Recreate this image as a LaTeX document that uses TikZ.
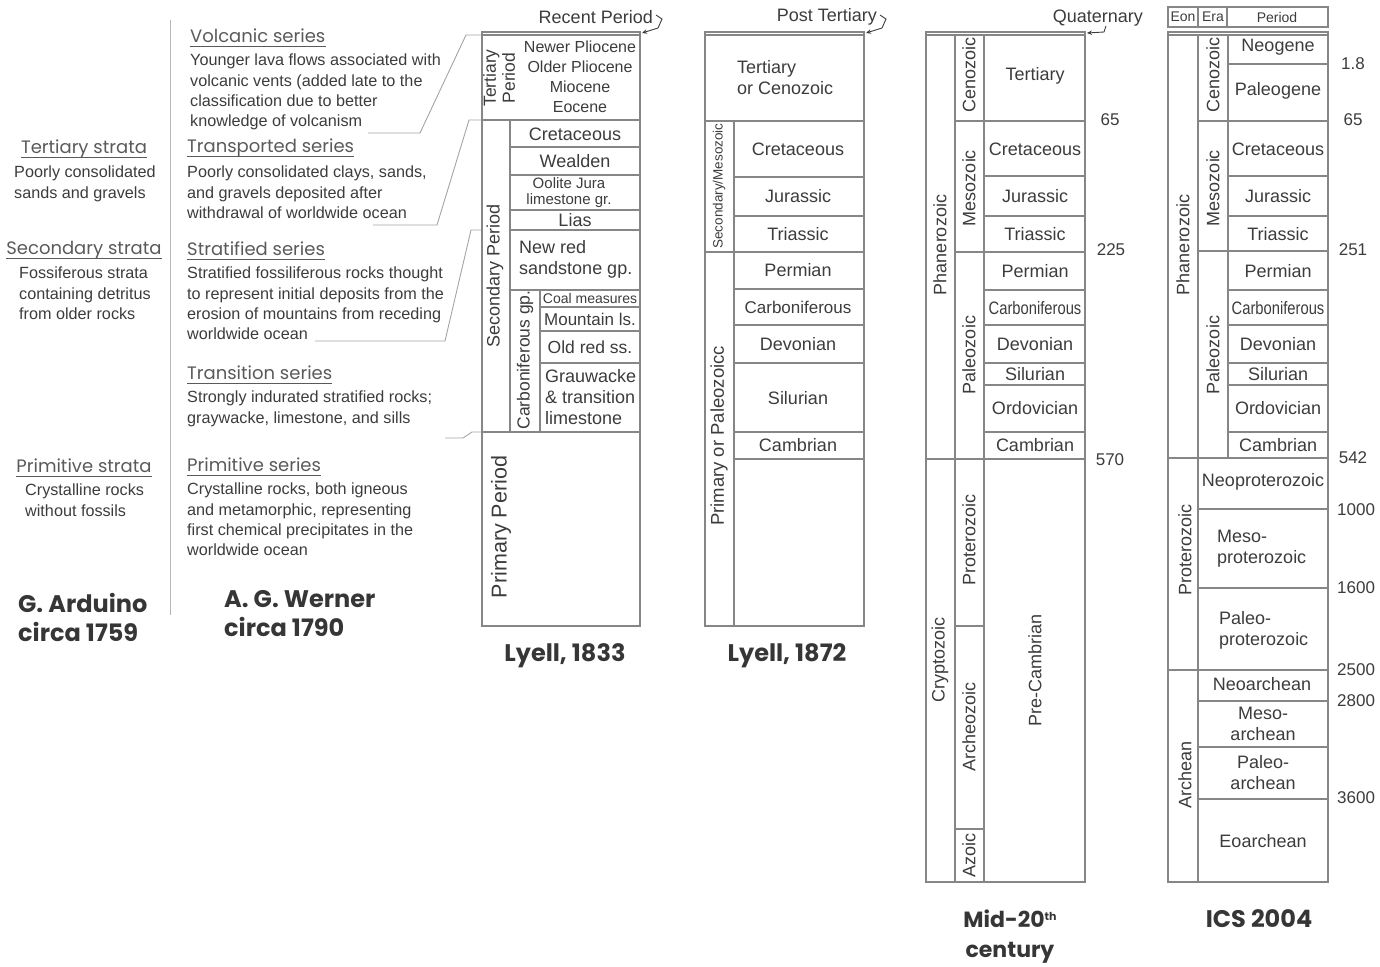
\documentclass[tikz,border=0pt]{standalone}
\usepackage{fontspec}
\setmainfont{Liberation Sans}
\newfontfamily\hdf{Poppins}
\usetikzlibrary{arrows.meta}
\definecolor{tc}{HTML}{3C3C3C}
\definecolor{lc}{HTML}{868686}
\definecolor{hc}{HTML}{5A5A5A}
\newcommand{\ulhead}[1]{\draw[draw=hc,line width=0.8pt] ([yshift=-4pt]#1.base west) -- ([yshift=-4pt]#1.base east);}
\begin{document}
\begin{tikzpicture}[x=1pt,y=-1pt,
 ln/.style={draw=lc,line width=1.3pt},
 cn/.style={draw=lc!75,line width=0.9pt},
 cell/.style={text=tc,inner sep=0pt,align=center,font=\fontsize{18}{21}\selectfont},
 rot/.style={cell,rotate=90},
 num/.style={text=tc,inner sep=0pt,font=\fontsize{17}{20}\selectfont},
 body/.style={text=tc,inner sep=0pt,align=left,anchor=north west,font=\fontsize{16.2}{20.3}\selectfont},
 hdr/.style={text=hc,inner sep=0pt,anchor=west,font=\hdf\fontsize{18}{20}\selectfont},
 captxt/.style={text=tc!90!black,inner sep=0pt,font=\hdf\bfseries\fontsize{24}{29}\selectfont},
 arr/.style={draw=tc,line width=0.9pt,-{Stealth[length=5pt,width=4.5pt]}}]
\useasboundingbox (0,0) rectangle (1380,966);

% ---------------- Arduino ----------------
\draw[draw=lc!60,line width=0.9pt] (170,20) -- (170,615);
\node[hdr,anchor=center] (at) at (84,149) {Tertiary strata}; \ulhead{at}
\node[body] (ab1) at (14,166) {Poorly consolidated\\sands and gravels};
\node[hdr,anchor=center] (as) at (84,250) {Secondary strata}; \ulhead{as}
\node[body] (ab2) at (19,267) {Fossiferous strata\\containing detritus\\from older rocks};
\node[hdr,anchor=center] (ap) at (84,466) {Primitive strata}; \ulhead{ap}
\node[body] (ab3) at (25,484) {Crystalline rocks\\without fossils};
\node[captxt,align=left,anchor=north west] (acap) at (18,593) {G. Arduino\\circa 1759};

% ---------------- Werner ----------------
\node[hdr] (wv) at (190,36) {Volcanic series}; \ulhead{wv}
\node[body] (wvb) at (190,54) {Younger lava flows associated with\\volcanic vents (added late to the\\classification due to better\\knowledge of volcanism};
\node[hdr] (wt) at (187,148) {Transported series}; \ulhead{wt}
\node[body] (wtb) at (187,166) {Poorly consolidated clays, sands,\\and gravels deposited after\\withdrawal of worldwide ocean};
\node[hdr] (ws) at (187,249) {Stratified series}; \ulhead{ws}
\node[body] (wsb) at (187,267) {Stratified fossiliferous rocks thought\\to represent initial deposits from the\\erosion of mountains from receding\\worldwide ocean};
\node[hdr] (wr) at (187,373) {Transition series}; \ulhead{wr}
\node[body] (wrb) at (187,391) {Strongly indurated stratified rocks;\\graywacke, limestone, and sills};
\node[hdr] (wp) at (187,465) {Primitive series}; \ulhead{wp}
\node[body] (wpb) at (187,483) {Crystalline rocks, both igneous\\and metamorphic, representing\\first chemical precipitates in the\\worldwide ocean};
\node[captxt,align=left,anchor=north west] (wcap) at (224,590) {A. G. Werner\\circa 1790};

% connectors Werner -> Lyell 1833
\coordinate (c1a) at (368,133); \coordinate (c1b) at (420,133); \coordinate (c1c) at (466,35); \coordinate (c1d) at (482,35);
\draw[cn] (c1a) -- (c1b) -- (c1c) -- (c1d);
\coordinate (c2a) at (373,225); \coordinate (c2b) at (437,225); \coordinate (c2c) at (469,120); \coordinate (c2d) at (482,120);
\draw[cn] (c2a) -- (c2b) -- (c2c) -- (c2d);
\coordinate (c3a) at (315,341); \coordinate (c3b) at (445,341); \coordinate (c3c) at (471,230); \coordinate (c3d) at (482,230);
\draw[cn] (c3a) -- (c3b) -- (c3c) -- (c3d);
\coordinate (c4a) at (445,438); \coordinate (c4b) at (463,438); \coordinate (c4c) at (472,432); \coordinate (c4d) at (482,432);
\draw[cn] (c4a) -- (c4b) -- (c4c) -- (c4d);

% ---------------- Lyell 1833 ----------------
\draw[ln] (482,32) rectangle (640,626);
\draw[ln] (482,35) -- (640,35);
\draw[ln] (482,120) -- (640,120);
\draw[ln] (510,147) -- (640,147);
\draw[ln] (510,175) -- (640,175);
\draw[ln] (510,210) -- (640,210);
\draw[ln] (510,230) -- (640,230);
\draw[ln] (510,290) -- (640,290);
\draw[ln] (540,307) -- (640,307);
\draw[ln] (540,331) -- (640,331);
\draw[ln] (540,363) -- (640,363);
\draw[ln] (482,432) -- (640,432);
\draw[ln] (510,120) -- (510,432);
\draw[ln] (540,290) -- (540,432);
\node[rot,font=\fontsize{17.5}{19}\selectfont] (l3tp) at (499,78) {Tertiary\\Period};
\node[cell,font=\fontsize{16}{20}\selectfont] (l3pl) at (580,77) {Newer Pliocene\\Older Pliocene\\Miocene\\Eocene};
\node[cell] (l3cr) at (575,134) {Cretaceous};
\node[cell] (l3we) at (575,161) {Wealden};
\node[cell,font=\fontsize{15}{16}\selectfont] (l3oo) at (569,193) {Oolite Jura\\limestone gr.};
\node[cell] (l3li) at (575,220) {Lias};
\node[cell,align=left,anchor=west] (l3nr) at (519,259) {New red\\sandstone gp.};
\node[cell,font=\fontsize{14}{16}\selectfont] (l3cm) at (590,298) {Coal measures};
\node[cell,font=\fontsize{17}{20}\selectfont] (l3ml) at (590,319) {Mountain ls.};
\node[cell,font=\fontsize{17.5}{20}\selectfont] (l3or) at (590,347) {Old red ss.};
\node[cell,align=left,anchor=west] (l3gr) at (545,397) {Grauwacke\\\& transition\\limestone};
\node[rot] (l3sp) at (495,276) {Secondary Period};
\node[rot,font=\fontsize{17.5}{20}\selectfont] (l3cg) at (525,360) {Carboniferous gp.};
\node[rot,font=\fontsize{21.5}{24}\selectfont] (l3pp) at (501,527) {Primary Period};
\node[cell,anchor=east] (l3rp) at (653,17) {Recent Period};
\coordinate (a1a) at (656,15); \coordinate (a1b) at (662,19); \coordinate (a1c) at (658,28);
\draw[arr] (a1a) -- (a1b) -- (a1c) -- (642,33);
\node[captxt] (l3cap) at (565,656) {Lyell, 1833};

% ---------------- Lyell 1872 ----------------
\draw[ln] (705,32) rectangle (864,626);
\draw[ln] (705,35) -- (864,35);
\draw[ln] (705,121) -- (864,121);
\draw[ln] (734,177) -- (864,177);
\draw[ln] (734,216) -- (864,216);
\draw[ln] (705,252) -- (864,252);
\draw[ln] (734,289) -- (864,289);
\draw[ln] (734,325) -- (864,325);
\draw[ln] (734,363) -- (864,363);
\draw[ln] (734,432) -- (864,432);
\draw[ln] (734,459) -- (864,459);
\draw[ln] (734,121) -- (734,626);
\node[cell,align=left,anchor=west] (l7te) at (737,78) {Tertiary\\or Cenozoic};
\node[cell] (l7cr) at (798,149) {Cretaceous};
\node[cell] (l7ju) at (798,196) {Jurassic};
\node[cell] (l7tr) at (798,234) {Triassic};
\node[cell] (l7pe) at (798,270) {Permian};
\node[cell,font=\fontsize{17}{20}\selectfont] (l7ca) at (798,307) {Carboniferous};
\node[cell] (l7de) at (798,344) {Devonian};
\node[cell] (l7si) at (798,398) {Silurian};
\node[cell] (l7cb) at (798,445) {Cambrian};
\node[rot,font=\fontsize{13.5}{15}\selectfont] (l7sm) at (719,186) {Secondary/Mesozoic};
\node[rot,font=\fontsize{18.5}{20}\selectfont] (l7pp) at (719,436) {Primary or Paleozoicc};
\node[cell,anchor=east] (l7pt) at (877,17) {Post Tertiary};
\coordinate (a2a) at (880,15); \coordinate (a2b) at (886,19); \coordinate (a2c) at (882,28);
\draw[arr] (a2a) -- (a2b) -- (a2c) -- (866,33);
\node[captxt] (l7cap) at (787,656) {Lyell, 1872};

% ---------------- Mid-20th century ----------------
\draw[ln] (926,32) rectangle (1085,882);
\draw[ln] (926,35) -- (1085,35);
\draw[ln] (955,35) -- (955,882);
\draw[ln] (984,35) -- (984,882);
\draw[ln] (955,121) -- (1085,121);
\draw[ln] (984,176) -- (1085,176);
\draw[ln] (984,216) -- (1085,216);
\draw[ln] (955,252) -- (1085,252);
\draw[ln] (984,290) -- (1085,290);
\draw[ln] (984,325) -- (1085,325);
\draw[ln] (984,363) -- (1085,363);
\draw[ln] (984,385) -- (1085,385);
\draw[ln] (984,432) -- (1085,432);
\draw[ln] (926,459) -- (1085,459);
\draw[ln] (955,626) -- (984,626);
\draw[ln] (955,829) -- (984,829);
\node[cell] (mte) at (1035,76) {Tertiary};
\node[cell] (mcr) at (1035,149) {Cretaceous};
\node[cell] (mju) at (1035,196) {Jurassic};
\node[cell] (mtr) at (1035,234) {Triassic};
\node[cell] (mpe) at (1035,271) {Permian};
\node[cell] (mca) at (1035,308) {\scalebox{0.82}[1]{Carboniferous}};
\node[cell] (mde) at (1035,344) {Devonian};
\node[cell] (msi) at (1035,374) {Silurian};
\node[cell] (mor) at (1035,408) {Ordovician};
\node[cell] (mcb) at (1035,445) {Cambrian};
\node[rot] (mpc) at (1035,670) {Pre-Cambrian};
\node[rot] (mph) at (940,245) {Phanerozoic};
\node[rot] (mcy) at (940,660) {Cryptozoic};
\node[rot] (mce) at (969,75) {Cenozoic};
\node[rot] (mme) at (969,188) {Mesozoic};
\node[rot] (mpa) at (969,355) {Paleozoic};
\node[rot] (mpr) at (969,540) {Proterozoic};
\node[rot] (mar) at (969,727) {Archeozoic};
\node[rot] (maz) at (969,855) {Azoic};
\node[num] (m65) at (1110,120) {65};
\node[num] (m225) at (1111,250) {225};
\node[num] (m570) at (1110,460) {570};
\node[cell,anchor=east] (mq) at (1143,18) {Quaternary};
\coordinate (a3a) at (1106,26); \coordinate (a3b) at (1104,32);
\draw[arr] (a3a) -- (a3b) -- (1087,33);
\node[captxt,align=center,font=\hdf\bfseries\fontsize{22}{30}\selectfont] (mcap) at (1010,937) {Mid-20\raisebox{7pt}{\fontsize{11}{12}\selectfont th}\\century};

% ---------------- ICS 2004 ----------------
\draw[ln,line width=1.6pt] (1168,7) rectangle (1328,27);
\draw[ln] (1198,7) -- (1198,27);
\draw[ln] (1227,7) -- (1227,27);
\node[cell,font=\fontsize{14}{16}\selectfont] (ie) at (1183,17) {Eon};
\node[cell,font=\fontsize{14}{16}\selectfont] (ier) at (1213,17) {Era};
\node[cell,font=\fontsize{14}{16}\selectfont] (ipr) at (1277,17) {Period};
\draw[ln] (1168,32) rectangle (1328,882);
\draw[ln] (1168,35) -- (1328,35);
\draw[ln] (1198,35) -- (1198,882);
\draw[ln] (1228,35) -- (1228,458);
\draw[ln] (1228,64) -- (1328,64);
\draw[ln] (1198,121) -- (1328,121);
\draw[ln] (1228,176) -- (1328,176);
\draw[ln] (1228,216) -- (1328,216);
\draw[ln] (1198,251) -- (1328,251);
\draw[ln] (1228,290) -- (1328,290);
\draw[ln] (1228,325) -- (1328,325);
\draw[ln] (1228,363) -- (1328,363);
\draw[ln] (1228,385) -- (1328,385);
\draw[ln] (1228,432) -- (1328,432);
\draw[ln] (1168,458) -- (1328,458);
\draw[ln] (1198,509) -- (1328,509);
\draw[ln] (1198,588) -- (1328,588);
\draw[ln] (1168,670) -- (1328,670);
\draw[ln] (1198,701) -- (1328,701);
\draw[ln] (1198,747) -- (1328,747);
\draw[ln] (1198,799) -- (1328,799);
\node[cell] (ine) at (1278,47) {Neogene};
\node[cell] (ipa) at (1278,91) {Paleogene};
\node[cell] (icr) at (1278,149) {Cretaceous};
\node[cell] (iju) at (1278,196) {Jurassic};
\node[cell] (itr) at (1278,234) {Triassic};
\node[cell] (ipe) at (1278,271) {Permian};
\node[cell] (ica) at (1278,308) {\scalebox{0.82}[1]{Carboniferous}};
\node[cell] (ide) at (1278,344) {Devonian};
\node[cell] (isi) at (1278,374) {Silurian};
\node[cell] (ior) at (1278,408) {Ordovician};
\node[cell] (icb) at (1278,445) {Cambrian};
\node[cell] (inp) at (1263,482) {Neoproterozoic};
\node[cell,align=left,anchor=west] (imp) at (1217,549) {Meso-\\proterozoic};
\node[cell,align=left,anchor=west] (ipp) at (1219,630) {Paleo-\\proterozoic};
\node[cell] (ina) at (1262,684) {Neoarchean};
\node[cell] (ima) at (1263,724) {Meso-\\archean};
\node[cell] (ipaa) at (1263,773) {Paleo-\\archean};
\node[cell] (iea) at (1263,841) {Eoarchean};
\node[rot] (iph) at (1183,245) {Phanerozoic};
\node[rot] (iprz) at (1185,550) {Proterozoic};
\node[rot] (iar) at (1185,775) {Archean};
\node[rot] (ice) at (1213,75) {Cenozoic};
\node[rot] (ime) at (1213,188) {Mesozoic};
\node[rot] (ipz) at (1213,355) {Paleozoic};
\node[num] (i18) at (1353,64) {1.8};
\node[num] (i65) at (1353,120) {65};
\node[num] (i251) at (1353,250) {251};
\node[num] (i542) at (1353,458) {542};
\node[num,anchor=west] (i1000) at (1337,510) {1000};
\node[num,anchor=west] (i1600) at (1337,588) {1600};
\node[num,anchor=west] (i2500) at (1337,670) {2500};
\node[num,anchor=west] (i2800) at (1337,701) {2800};
\node[num,anchor=west] (i3600) at (1337,798) {3600};
\node[captxt] (icap) at (1259,919) {ICS 2004};
\end{tikzpicture}
\end{document}
